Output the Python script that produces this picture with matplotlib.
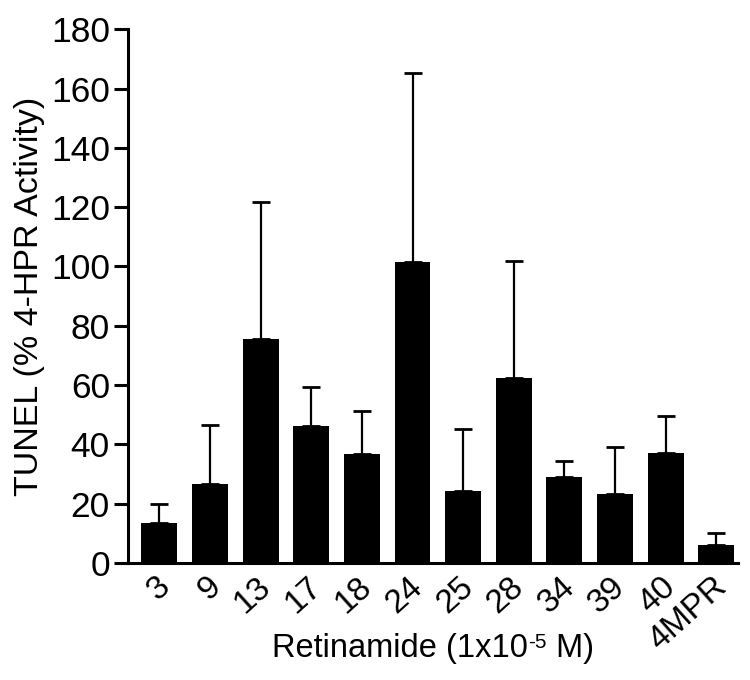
import numpy as np
import matplotlib
matplotlib.use("Agg")
import matplotlib.pyplot as plt
import matplotlib.transforms as mtransforms

plt.rcParams["font.family"] = ["Liberation Sans", "DejaVu Sans"]

# values
compounds = ["3", "9", "13", "17", "18", "24", "25", "28", "34", "39", "40", "4MPR"]
tunel = [13.6, 26.7, 75.7, 46.3, 36.8, 101.6, 24.4, 62.4, 29.1, 23.3, 37.0, 6.2]
upper_err = [6.2, 19.9, 45.9, 13.1, 14.4, 63.7, 20.8, 39.3, 5.2, 15.8, 12.7, 3.8]

fig = plt.figure(figsize=(7.5, 6.8), dpi=100)
ax = fig.add_axes([0.1707, 0.172, 0.8133, 0.785])

x = np.arange(len(compounds))
ax.bar(x, tunel, width=0.71, color="black", zorder=2)
ax.errorbar(x, tunel, yerr=[np.zeros(len(x)), upper_err], fmt="none",
            ecolor="black", elinewidth=1.6, capsize=6.8, capthick=2.0, zorder=1)

ax.set_xlim(-0.62, 11.43)
ax.set_ylim(0, 180)
ax.set_yticks(np.arange(0, 181, 20))
ax.set_xticks(x)
ax.set_xticklabels(compounds, rotation=42, ha="right", va="center",
                   rotation_mode="anchor", fontsize=24)
ax.tick_params(axis="x", length=0, pad=14)
ax.tick_params(axis="y", length=10, width=2.2, labelsize=25.5, pad=3)

# nudge the rotated tick labels a little to the right, as in the reference
shift = mtransforms.ScaledTranslation(6 / 100, 0, fig.dpi_scale_trans)
for lab in ax.get_xticklabels():
    lab.set_transform(lab.get_transform() + shift)

for side in ("top", "right"):
    ax.spines[side].set_visible(False)
for side in ("left", "bottom"):
    ax.spines[side].set_linewidth(2.2)

ax.set_ylabel("TUNEL (% 4-HPR Activity)", fontsize=24.5, labelpad=4)

# x label: main text plus a small raised "-5", placed directly since it sits
# partly beside the long "4MPR" tick label
fig.canvas.draw()
renderer = fig.canvas.get_renderer()
xlab_y = 1 - 657 / 680
parts = [("Retinamide (1x10", 23.5, 0), ("-5", 15, 9), (" M)", 23.5, 0)]
texts = [fig.text(0, xlab_y, s, fontsize=fs, va="baseline") for s, fs, _ in parts]
widths = [t.get_window_extent(renderer).width for t in texts]
x0 = 433 - sum(widths) / 2
for t, w, (_, _, dy) in zip(texts, widths, parts):
    t.set_position((x0 / 750, xlab_y + dy / 680))
    x0 += w

fig.savefig("out.png", dpi=100)
plt.close(fig)
